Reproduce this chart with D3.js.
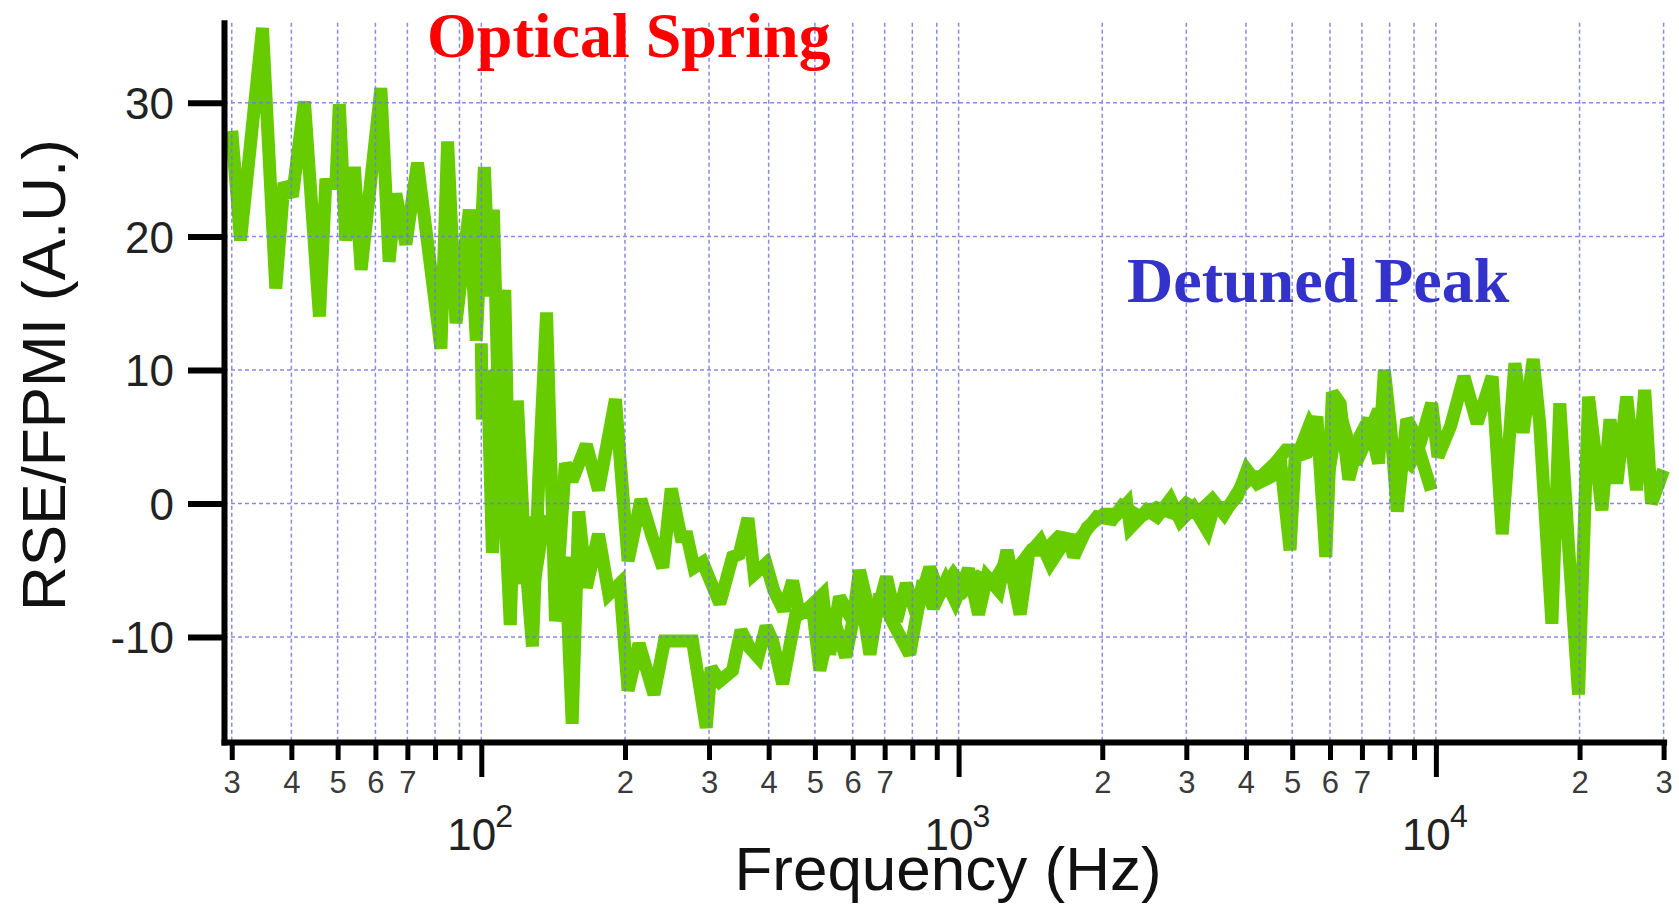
<!DOCTYPE html>
<html>
<head>
<meta charset="utf-8">
<script src="https://cdn.jsdelivr.net/npm/d3@7"></script>
<style>
  html, body { margin: 0; padding: 0; background: #fff; }
  svg { display: block; }
</style>
</head>
<body>
<svg id="chart" width="1679" height="905"></svg>
<script>
// Trace 1: low-frequency sweep (Hz, A.U.)
const freqA = [30.0, 31.3, 34.8, 37.1, 38.6, 40.2, 42.6, 45.8, 47.2, 49.6,
  50.4, 52.0, 54.2, 56.0, 61.6, 64.1, 66.2, 69.5, 73.5, 82.3,
  85.0, 88.5, 94.4, 97.6, 101.5, 104, 106, 108.5, 110.5, 112.5,
  115, 119, 123, 128, 132, 137, 143, 150, 155, 160,
  166, 176, 185, 195, 203, 214, 230, 242, 253, 277,
  296, 303, 316, 336, 350, 365, 380, 395, 408, 428, 456, 495, 512,
  544, 580, 620, 652, 683, 730, 790, 842, 885, 940,
  984, 1049, 1101, 1147, 1213, 1263, 1346, 1402, 1483, 1557,
  1701, 1742, 1859, 2013, 2148, 2253, 2290, 2481, 2605, 2777,
  2917, 3107, 3317, 3426, 3657, 3833, 4021, 4226, 4507, 4722,
  4948, 5072, 5364, 5632, 5880, 6070, 6300, 6569, 6923, 7235,
  7585, 7800, 8050, 8301, 8690, 8950, 9780];
const valA = [27.9, 19.7, 35.6, 16.1, 24.0, 23.0, 30.1, 14.0, 23.9, 24.0,
  29.9, 19.7, 25.2, 17.5, 31.1, 18.1, 23.2, 19.4, 25.5, 11.6,
  27.1, 13.5, 22.0, 12.2, 25.2, 15.5, 22, 8, 14, -2,
  -9.1, 7.7, -3, -10.7, 2, 14.3, -8.8, -4, -16.5, -0.6,
  -6.3, -2.3, -6.8, -6, -14, -10.5, -14.3, -10.3, -10.3, -10.3,
  -16.8, -12.3, -13.3, -12.5, -9.5, -10.8, -11.5, -9.2, -10.3, -13.5, -8.3, -8, -12.5,
  -8.3, -11.5, -6.3, -11.3, -6.8, -9, -11.3, -5.8, -7.8, -5.8,
  -7.3, -4.9, -8.3, -5.5, -6.5, -3.5, -8.3, -3.8, -2.8, -4.5,
  -2.4, -4, -1.8, -0.8, -0.8, 0, -1.8, -0.5, -1, 0.3,
  -1.3, -0.3, -2, -0.3, -0.3, 0.5, 2.5, 1.5, 2, 3.3,
  -3.5, 3.5, 3.8, 6.5, -4, 8.3, 7.5, 1.8, 5, 6.3,
  3, 10, 5.5, -0.6, 6.3, 5.5, 1.0];

// Trace 2: high-frequency sweep (Hz, A.U.)
const freqB = [100, 100.5, 103, 105.5, 108.5, 112, 114, 117, 121, 125,
  129, 133, 139, 145, 150, 155, 166, 176, 191, 203,
  216, 228, 240, 250, 262, 270, 279, 291, 316, 336,
  347, 362, 373, 395, 410, 430, 449, 464, 486, 519,
  537, 563, 600, 620, 662, 706, 741, 777, 815, 870,
  913, 975, 1030, 1100, 1180, 1250, 1320, 1420, 1520, 1620,
  1780, 1950, 2100, 2200, 2400, 2600, 2850, 3000, 3200, 3400,
  3600, 3900, 4100, 4300, 4600, 4850, 5187, 5438, 5701, 5977,
  6266, 6569, 6800, 7100, 7585, 7918, 8301, 8840, 9268, 9800,
  10100, 10740, 11450, 12200, 13120, 13770, 14640, 15230, 15990, 16500,
  17500, 18180, 18950, 19900, 20890, 22280, 23170, 23940, 25110, 26320,
  27390, 28290, 30000];
const valB = [12, 6.3, 10, -3.7, 3, 16, 2, -2, -6, -1,
  -6, -3, -1, -5, 3.0, 1.7, 4.4, 1.0, 7.8, -4.3,
  0.3, -2.5, -4.8, 1.1, -2.5, -2.5, -4.8, -4.4, -7.5, -4,
  -3.8, -1.1, -5.3, -4.5, -6.5, -8, -5.8, -8.3, -7.8, -6.8,
  -11.3, -7, -8.8, -5, -9.3, -5.5, -8.8, -6, -8.3, -4.8,
  -6.8, -5.3, -6.5, -5.5, -6, -4.5, -5, -3.5, -3.5, -2.5,
  -2.8, -1, -1.2, -0.2, -1, -0.3, -0.8, 0, -0.6, 0.3,
  -0.8, 1.2, 2, 2, 3, 4, 4, 5.9, 4.5, 2.5,
  7, 4.5, 3, 4.5, 7, 5, 4, 3, 4.5, 7.5,
  3.5, 5.8, 9.5, 6, 9.5, -2.3, 10.5, 5.3, 10.8, 6,
  -9, 7.5, -3, -14.3, 8, -0.5, 6.3, 1.5, 8, 1,
  8.5, 0, 2.5];

// Axis ticks
const yTicks = [-10, 0, 10, 20, 30];
const xMinorTicks = [30, 40, 50, 60, 70, 80, 90,
  200, 300, 400, 500, 600, 700, 800, 900,
  2000, 3000, 4000, 5000, 6000, 7000, 8000, 9000,
  20000, 30000];
const xMinorLabels = ["3", "4", "5", "6", "7", "", "",
  "2", "3", "4", "5", "6", "7", "", "",
  "2", "3", "4", "5", "6", "7", "", "",
  "2", "3"];
const xDecadeTicks = [100, 1000, 10000];
const xDecadeExp = ["2", "3", "4"];

const sansFont = "'Liberation Sans', Arial, Helvetica, sans-serif";
const serifFont = "'Liberation Serif', 'Times New Roman', serif";

const svg = d3.select("#chart");

const x = d3.scaleLog().domain([28.9, 30000]).range([224, 1663.6]);
const y = d3.scaleLinear().domain([-17.86, 36.0]).range([742, 22.7]);

const seriesA = freqA.map((f, i) => [f, valA[i]]);
const seriesB = freqB.map((f, i) => [f, valB[i]]);

const line = d3.line().x(d => x(d[0])).y(d => y(d[1]));

// Traces
const traces = svg.append("g");
[seriesA, seriesB].forEach(s => {
  traces.append("path")
    .datum(s)
    .attr("d", line)
    .attr("fill", "none")
    .attr("stroke", "#66cc00")
    .attr("stroke-width", 13)
    .attr("stroke-linejoin", "miter")
    .attr("stroke-miterlimit", 2.5);
});

// Dashed grid on top of the traces
const grid = svg.append("g")
  .attr("stroke", "#7676e0")
  .attr("stroke-width", 1.5)
  .attr("stroke-dasharray", "4,3")
  .attr("opacity", 0.85);
grid.selectAll("line.v")
  .data(xMinorTicks.concat(xDecadeTicks))
  .join("line")
  .attr("class", "v")
  .attr("x1", d => x(d)).attr("x2", d => x(d))
  .attr("y1", y.range()[1]).attr("y2", y.range()[0]);
grid.selectAll("line.h")
  .data(yTicks)
  .join("line")
  .attr("class", "h")
  .attr("x1", x.range()[0]).attr("x2", x.range()[1])
  .attr("y1", d => y(d)).attr("y2", d => y(d));

// Y axis
const yAxis = svg.append("g")
  .attr("transform", `translate(${x.range()[0]},0)`)
  .call(d3.axisLeft(y).tickValues(yTicks).tickSize(36).tickSizeOuter(0).tickPadding(14)
    .tickFormat(d => d));
yAxis.select(".domain").attr("stroke", "#000").attr("stroke-width", 6)
  .attr("stroke-linecap", "square");
yAxis.selectAll(".tick line").attr("stroke", "#000").attr("stroke-width", 6);
yAxis.selectAll(".tick text")
  .attr("font-family", sansFont).attr("font-size", 44).attr("fill", "#222")
  .attr("dy", "0.36em");

// X axis: minor ticks with single-digit labels
const xAxisMinor = svg.append("g")
  .attr("transform", `translate(0,${y.range()[0]})`)
  .call(d3.axisBottom(x).tickValues(xMinorTicks).tickSize(18).tickSizeOuter(0).tickPadding(11)
    .tickFormat((d, i) => xMinorLabels[i]));
xAxisMinor.select(".domain").attr("stroke", "#000").attr("stroke-width", 6)
  .attr("stroke-linecap", "square");
xAxisMinor.selectAll(".tick line").attr("stroke", "#000").attr("stroke-width", 5);
xAxisMinor.selectAll(".tick text")
  .attr("font-family", sansFont).attr("font-size", 31).attr("fill", "#3a3a3a");

// X axis: decade ticks with power-of-ten labels
const xAxisMajor = svg.append("g")
  .attr("transform", `translate(0,${y.range()[0]})`)
  .call(d3.axisBottom(x).tickValues(xDecadeTicks).tickSize(35).tickSizeOuter(0).tickFormat(""));
xAxisMajor.select(".domain").remove();
xAxisMajor.selectAll(".tick line").attr("stroke", "#000").attr("stroke-width", 5);

const decadeLabels = svg.append("g")
  .attr("font-family", sansFont).attr("fill", "#222");
xDecadeTicks.forEach((d, i) => {
  const cx = x(d);
  decadeLabels.append("text")
    .attr("x", cx - 34).attr("y", 850)
    .attr("font-size", 44)
    .text("10");
  decadeLabels.append("text")
    .attr("x", cx + 14).attr("y", 827)
    .attr("font-size", 32)
    .text(xDecadeExp[i]);
});

// Axis titles
svg.append("text")
  .attr("x", 948).attr("y", 890)
  .attr("text-anchor", "middle")
  .attr("font-family", sansFont).attr("font-size", 62).attr("fill", "#111")
  .text("Frequency (Hz)");

svg.append("text")
  .attr("transform", "translate(65,375) rotate(-90)")
  .attr("text-anchor", "middle")
  .attr("font-family", sansFont).attr("font-size", 62).attr("fill", "#111")
  .text("RSE/FPMI (A.U.)");

// Annotations
svg.append("text")
  .attr("x", 427).attr("y", 57)
  .attr("font-family", serifFont).attr("font-weight", "bold").attr("font-size", 64)
  .attr("fill", "#ff0000")
  .text("Optical Spring");

svg.append("text")
  .attr("x", 1127).attr("y", 302)
  .attr("font-family", serifFont).attr("font-weight", "bold").attr("font-size", 64)
  .attr("fill", "#3333cc")
  .text("Detuned Peak");
</script>
</body>
</html>
